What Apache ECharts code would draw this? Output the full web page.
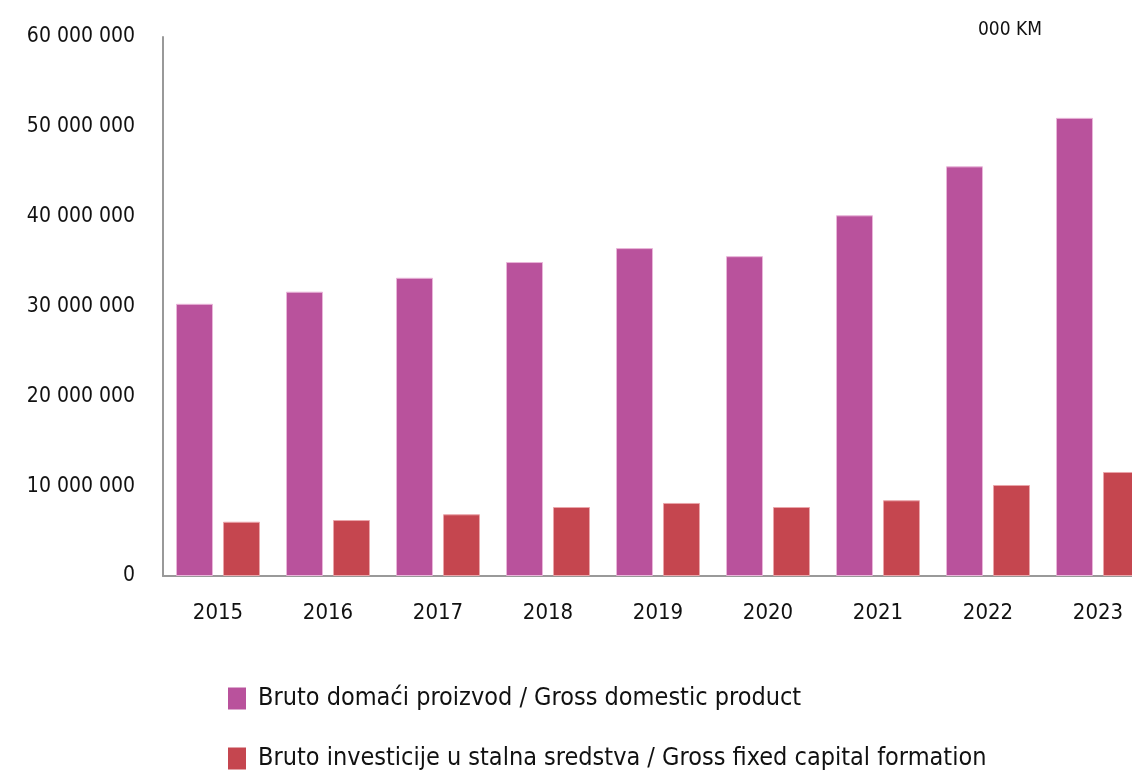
<!DOCTYPE html>
<html>
<head>
<meta charset="utf-8">
<script src="https://cdn.jsdelivr.net/npm/echarts@6/dist/echarts.min.js"></script>
<style>
  html, body { margin: 0; padding: 0; background: #fff; overflow: hidden; }
  #figure { width: 1153px; height: 771px; }
</style>
</head>
<body>
<div id="figure"></div>
<script>
let years = ['2015', '2016', '2017', '2018', '2019', '2020', '2021', '2022', '2023'];
let gdp = [30300000, 31650000, 33200000, 34950000, 36500000, 35600000, 40150000, 45600000, 51000000];
let gfcf = [6040000, 6230000, 6870000, 7680000, 8130000, 7680000, 8430000, 10130000, 11580000];
let gdp_name = 'Bruto domaći proizvod / Gross domestic product';
let gfcf_name = 'Bruto investicije u stalna sredstva / Gross fixed capital formation';

let font = '"Liberation Sans Narrow", "DejaVu Sans Condensed", sans-serif';

function fmt_num(v) {
    return String(v).replace(/\B(?=(\d{3})+(?!\d))/g, ' ');
}

function legend_row(name, top) {
    return {
        left: 223,
        top: top,
        itemWidth: 18,
        itemHeight: 22,
        icon: 'rect',
        itemStyle: { borderWidth: 0 },
        textStyle: { fontFamily: font, fontSize: 25, color: '#111', padding: [0, 0, 0, 7] },
        data: [name]
    };
}

let figure = document.getElementById('figure');
let myChart = echarts.init(figure);
myChart.setOption({
    animation: false,
    textStyle: { fontFamily: font },
    title: {
        text: '000 KM',
        left: 973,
        top: 16,
        textStyle: { fontFamily: font, fontSize: 19, fontWeight: 'normal', color: '#111' }
    },
    legend: [legend_row(gdp_name, 681), legend_row(gfcf_name, 741)],
    grid: { left: 163, right: 0, top: 37, bottom: 195, containLabel: false },
    xAxis: {
        type: 'category',
        data: years,
        axisLine: { lineStyle: { color: '#999', width: 2 } },
        axisTick: { show: false },
        axisLabel: { fontFamily: font, fontSize: 22, color: '#111', margin: 26 }
    },
    yAxis: {
        type: 'value',
        min: 0,
        max: 60000000,
        interval: 10000000,
        splitLine: { show: false },
        axisLine: { show: true, lineStyle: { color: '#999', width: 2 } },
        axisTick: { show: false },
        axisLabel: { fontFamily: font, fontSize: 21, color: '#111', margin: 28, formatter: fmt_num }
    },
    series: [
        {
            name: gdp_name,
            type: 'bar',
            data: gdp,
            barWidth: 37,
            barGap: '27%',
            itemStyle: { color: '#B9529C', borderColor: '#E9B5D9', borderWidth: 1 }
        },
        {
            name: gfcf_name,
            type: 'bar',
            data: gfcf,
            barWidth: 37,
            itemStyle: { color: '#C5464F', borderColor: '#EAA5AA', borderWidth: 1 }
        }
    ]
});
</script>
</body>
</html>
